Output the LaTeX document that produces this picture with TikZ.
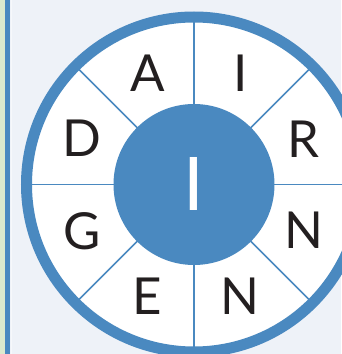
\documentclass[tikz,border=0pt]{standalone}
\usepackage{fontspec}
\setmainfont{Lato}
\usetikzlibrary{calc}
\definecolor{wblue}{RGB}{74,137,192}
\definecolor{wbg}{RGB}{238,242,248}
\definecolor{wgreen}{RGB}{220,234,206}
\definecolor{wink}{RGB}{35,31,32}
\begin{document}
\begin{tikzpicture}[x=1pt,y=1pt,
  letter/.style={inner sep=0pt,text height=36.6pt,text depth=0pt,font=\fontsize{51}{51}\selectfont,text=wink},
  divider/.style={wblue,line width=1.6pt}]
\useasboundingbox (0,0) rectangle (341,354);
\fill[wbg] (0,0) rectangle (341,354);
\fill[wgreen] (0,0) rectangle (4.5,354);
\fill[wblue] (5,0) rectangle (10,354);
\fill[white,opacity=0.5] (10.5,0) rectangle (11.5,354);
\coordinate (c) at (194,169.5);
\fill[white] (c) circle[radius=163];
\foreach \a in {0,45,...,315}
  \draw[divider] ($(c)+(\a:79)$) -- ($(c)+(\a:163)$);
\draw[wblue,line width=11pt] (c) circle[radius=167.5];
\fill[wblue] (c) circle[radius=80.5];
\node[inner sep=0pt,text height=53pt,text depth=0pt,font=\fontsize{74}{74}\selectfont,text=white] (ctr) at (c) {I};
\node[letter] (l1) at ($(c)+(112.5:121)$) {A};
\node[letter] (l2) at ($(c)+(67.5:121)$) {I};
\node[letter] (l3) at ($(c)+(22.5:119)$) {R};
\node[letter] (l4) at ($(c)+(-22.5:119)$) {N};
\node[letter] (l5) at ($(c)+(-67.5:121)$) {N};
\node[letter] (l6) at ($(c)+(-112.5:121)$) {E};
\node[letter] (l7) at ($(c)+(-157.5:121)$) {G};
\node[letter] (l8) at ($(c)+(157.5:121)$) {D};
\end{tikzpicture}
\end{document}
